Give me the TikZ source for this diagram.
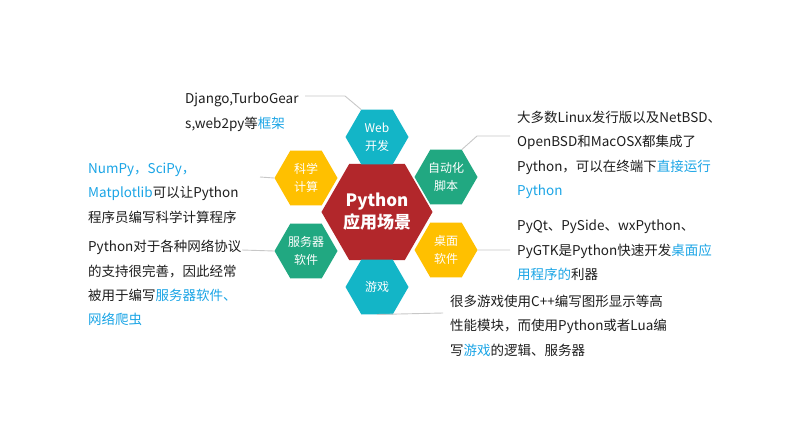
\documentclass[tikz,border=0pt]{standalone}
\usepackage{fontspec}
\setmainfont{Noto Sans CJK SC}
\usetikzlibrary{shapes.geometric}

\definecolor{hexcyan}{HTML}{13B5C7}
\definecolor{hexgreen}{HTML}{21A881}
\definecolor{hexyellow}{HTML}{FFC000}
\definecolor{hexred}{HTML}{B2272B}
\definecolor{linkblue}{HTML}{1BA5E6}
\definecolor{textdark}{HTML}{1E1E1E}
\definecolor{linegray}{HTML}{C8C8C8}

\newcommand{\hl}[1]{{\color{linkblue}#1}}

\tikzset{
  hexnode/.style={regular polygon, regular polygon sides=6, inner sep=0pt,
    minimum size=63pt, text=white, align=center,
    font=\fontsize{12}{18.5}\selectfont},
  hexcore/.style={hexnode, minimum size=100pt,
    font=\fontsize{17}{22}\selectfont\bfseries},
  desc/.style={anchor=north west, inner sep=0pt, align=left, text=textdark,
    font=\fontsize{13.5}{24.3}\selectfont},
  link/.style={draw=linegray, line width=0.9pt},
}

\begin{document}
\begin{tikzpicture}[x=1pt,y=-1pt]

  \useasboundingbox[fill=white] (0,0) rectangle (802,445);

  % -- hexagons --
  \node[hexcore, fill=hexred]    (core) at (377,212) {Python\\应用场景};
  \node[hexnode, fill=hexcyan]   (web)  at (377,137) {Web\\开发};
  \node[hexnode, fill=hexyellow] (sci)  at (306,178) {科学\\计算};
  \node[hexnode, fill=hexgreen]  (auto) at (446,177) {自动化\\脚本};
  \node[hexnode, fill=hexgreen]  (srv)  at (306,251) {服务器\\软件};
  \node[hexnode, fill=hexyellow] (desk) at (446,250) {桌面\\软件};
  \node[hexnode, fill=hexcyan]   (game) at (377,287) {游戏};

  % -- descriptions --
  \node[desc] (webtxt)  at (185,93)  {Django,TurboGear\\s,web2py等\hl{框架}};
  \node[desc] (autotxt) at (517,111) {大多数Linux发行版以及NetBSD、\\OpenBSD和MacOSX都集成了\\Python，可以在终端下\hl{直接运行}\\\hl{Python}};
  \node[desc] (scitxt)  at (88,163)  {\hl{NumPy，SciPy，}\\\hl{Matplotlib}可以让Python\\程序员编写科学计算程序};
  \node[desc] (srvtxt)  at (88,240)  {Python对于各种网络协议\\的支持很完善，因此经常\\被用于编写\hl{服务器软件、}\\\hl{网络爬虫}};
  \node[desc] (desktxt) at (517,220) {PyQt、PySide、wxPython、\\PyGTK是Python快速开发\hl{桌面应}\\\hl{用程序的}利器};
  \node[desc] (gametxt) at (450,295) {很多游戏使用C++编写图形显示等高\\性能模块，而使用Python或者Lua编\\写\hl{游戏}的逻辑、服务器};

  % -- leader lines --
  \coordinate (webbend) at (345,96);
  \coordinate (webend)  at (305,96);
  \coordinate (autobend) at (477,136);
  \coordinate (autoend)  at (510,136);
  \coordinate (sciend)  at (260,177);
  \coordinate (srvend)  at (242,250);
  \coordinate (deskend) at (510,250);
  \coordinate (gameend) at (443,313);

  \draw[link] (web.120) -- (webbend) -- (webend);
  \draw[link] (auto.60) -- (autobend) -- (autoend);
  \draw[link] (sci.west) -- (sciend);
  \draw[link] (srv.west) -- (srvend);
  \draw[link] (desk.east) -- (deskend);
  \draw[link] (game.south) -- (gameend);

\end{tikzpicture}
\end{document}
